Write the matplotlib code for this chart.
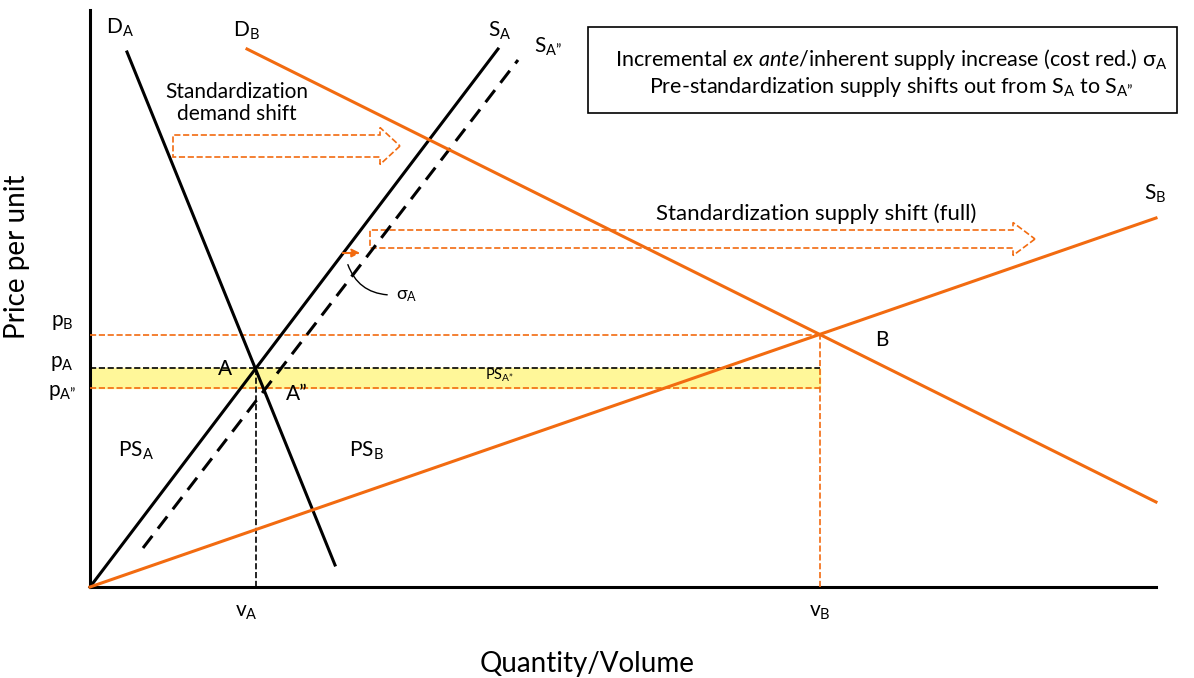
import matplotlib.pyplot as plt
from matplotlib.patches import FancyArrow, Rectangle

plt.rcParams['font.family'] = ['Lato', 'DejaVu Sans']
plt.rcParams['mathtext.fontset'] = 'custom'
plt.rcParams['mathtext.rm'] = 'Lato'
plt.rcParams['mathtext.it'] = 'Lato:italic'

ORANGE = '#f26b10'

# curves (quantity, price) end points
qty_DA = [37, 245]
price_DA = [535, 22]
qty_DB = [157, 1066]
price_DB = [538, 85]
qty_SA = [0, 408]
price_SA = [0, 538]
qty_SA2 = [53, 428]
price_SA2 = [39, 527]
qty_SB = [0, 1066]
price_SB = [0, 369]

# equilibria
v_A, p_A = 166, 219
v_B, p_B = 730, 252
p_A2 = 199

fig = plt.figure(figsize=(11.94, 6.78), dpi=100)
ax = fig.add_axes([0, 0, 1, 1])
ax.set_xlim(-90, 1104)
ax.set_ylim(-91, 587)
ax.axis('off')

# axes
ax.plot([0, 0], [0, 577], color='black', lw=2.2)
ax.plot([0, 1066], [0, 0], color='black', lw=2.2)

# producer surplus band
ax.fill_between([0, v_B], p_A2, p_A, color='#fff799', zorder=0)

# price / quantity guides
ax.plot([0, v_B], [p_B, p_B], '--', color=ORANGE, lw=1.2)
ax.plot([0, v_B], [p_A, p_A], '--', color='black', lw=1.2)
ax.plot([0, v_B], [p_A2, p_A2], '--', color=ORANGE, lw=1.2)
ax.plot([v_A, v_A], [0, p_A], '--', color='black', lw=1.2)
ax.plot([v_B, v_B], [0, p_B], '--', color=ORANGE, lw=1.2)

# curves
ax.plot(qty_DA, price_DA, color='black', lw=2.2)
ax.plot(qty_SA, price_SA, color='black', lw=2.2)
ax.plot(qty_SA2, price_SA2, color='black', lw=2.2, ls=(0, (5, 3)))
ax.plot(qty_DB, price_DB, color=ORANGE, lw=2.2)
ax.plot(qty_SB, price_SB, color=ORANGE, lw=2.2)

# hollow shift arrows
ax.add_patch(FancyArrow(83, 441, 227, 0, width=22, head_width=37, head_length=20,
                        length_includes_head=True, fill=False, ec=ORANGE, ls='--', lw=1.2))
ax.add_patch(FancyArrow(280, 348, 665, 0, width=18, head_width=33, head_length=22,
                        length_includes_head=True, fill=False, ec=ORANGE, ls='--', lw=1.2))
# sigma shift
ax.annotate('', xy=(273, 334), xytext=(250, 334),
            arrowprops=dict(arrowstyle='-|>', color=ORANGE, lw=1.5, ls='--', mutation_scale=12))
ax.annotate('', xy=(257, 325), xytext=(300, 292),
            arrowprops=dict(arrowstyle='-', color='black', lw=1, connectionstyle='arc3,rad=-0.35'))
ax.text(306, 291, r'σ$_\mathrm{A}$', fontsize=13, va='center', ha='left')

fs = 15
ax.text(-28, 265, r'$\mathrm{p_B}$', fontsize=fs, ha='center', va='center')
ax.text(-28, 224, r'$\mathrm{p_A}$', fontsize=fs, ha='center', va='center')
ax.text(-28, 195, r'$\mathrm{p_{A”}}$', fontsize=fs, ha='center', va='center')
ax.text(v_A - 10, -25, r'$\mathrm{v_A}$', fontsize=fs, ha='center', va='center')
ax.text(v_B, -25, r'$\mathrm{v_B}$', fontsize=fs, ha='center', va='center')
ax.text(135, 218, 'A', fontsize=fs, ha='center', va='center')
ax.text(207, 193, 'A”', fontsize=fs, ha='center', va='center')
ax.text(792, 247, 'B', fontsize=fs, ha='center', va='center')
ax.text(46, 136, r'$\mathrm{PS_A}$', fontsize=fs, ha='center', va='center')
ax.text(276, 136, r'$\mathrm{PS_B}$', fontsize=fs, ha='center', va='center')
ax.text(410, 212, r'$\mathrm{PS_{A”}}$', fontsize=10.5, ha='center', va='center')
ax.text(30, 559, r'$\mathrm{D_A}$', fontsize=fs, ha='center', va='center')
ax.text(156, 556, r'$\mathrm{D_B}$', fontsize=fs, ha='center', va='center')
ax.text(410, 556, r'$\mathrm{S_A}$', fontsize=fs, ha='center', va='center')
ax.text(458, 540, r'$\mathrm{S_{A”}}$', fontsize=fs, ha='center', va='center')
ax.text(1065, 393, r'$\mathrm{S_B}$', fontsize=fs, ha='center', va='center')

ax.text(147, 484, 'Standardization\ndemand shift', fontsize=fs, ha='center', va='center',
        linespacing=1.15)
ax.text(726, 373, 'Standardization supply shift (full)', fontsize=16, ha='center', va='center')

# info box
ax.add_patch(Rectangle((498, 474), 589, 86, fill=False, ec='black', lw=1.2))
ax.text(801, 527, r'Incremental $\mathit{ex\ ante}$/inherent supply increase (cost red.) σ$_\mathrm{A}$',
        fontsize=15.5, ha='center', va='center')
ax.text(801, 500, r'Pre-standardization supply shifts out from S$_\mathrm{A}$ to S$_\mathrm{A”}$',
        fontsize=15.5, ha='center', va='center')

ax.text(-73, 330, 'Price per unit', fontsize=20, rotation=90, ha='center', va='center')
ax.text(497, -77, 'Quantity/Volume', fontsize=20, ha='center', va='center')

fig.savefig('out.png', dpi=100)
